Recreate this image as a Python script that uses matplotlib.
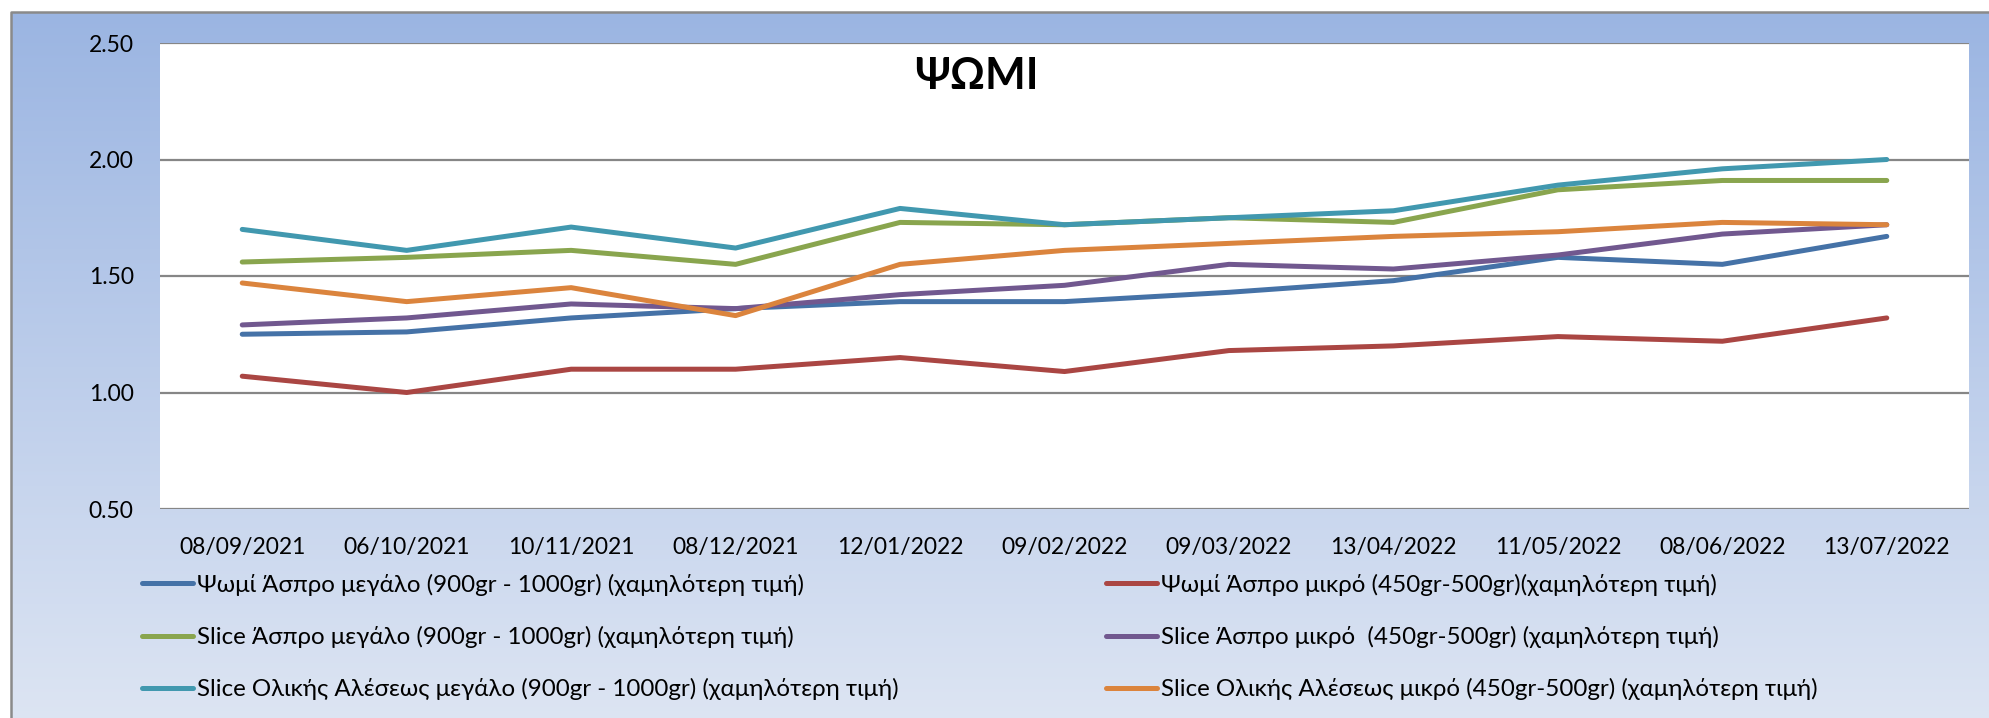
import numpy as np
import matplotlib
matplotlib.use("Agg")
import matplotlib.pyplot as plt

plt.rcParams['font.family'] = ['Lato', 'DejaVu Sans']

dates = ['08/09/2021', '06/10/2021', '10/11/2021', '08/12/2021', '12/01/2022',
         '09/02/2022', '09/03/2022', '13/04/2022', '11/05/2022', '08/06/2022',
         '13/07/2022']

white_big = [1.25, 1.26, 1.32, 1.36, 1.39, 1.39, 1.43, 1.48, 1.58, 1.55, 1.67]
white_small = [1.07, 1.00, 1.10, 1.10, 1.15, 1.09, 1.18, 1.20, 1.24, 1.22, 1.32]
slice_big = [1.56, 1.58, 1.61, 1.55, 1.73, 1.72, 1.75, 1.73, 1.87, 1.91, 1.91]
slice_small = [1.29, 1.32, 1.38, 1.36, 1.42, 1.46, 1.55, 1.53, 1.59, 1.68, 1.72]
whole_big = [1.70, 1.61, 1.71, 1.62, 1.79, 1.72, 1.75, 1.78, 1.89, 1.96, 2.00]
whole_small = [1.47, 1.39, 1.45, 1.33, 1.55, 1.61, 1.64, 1.67, 1.69, 1.73, 1.72]

labels = [
    'Ψωμί Άσπρο μεγάλο (900gr - 1000gr) (χαμηλότερη τιμή)',
    'Ψωμί Άσπρο μικρό (450gr-500gr)(χαμηλότερη τιμή)',
    'Slice Άσπρο μεγάλο (900gr - 1000gr) (χαμηλότερη τιμή)',
    'Slice Άσπρο μικρό  (450gr-500gr) (χαμηλότερη τιμή)',
    'Slice Ολικής Αλέσεως μεγάλο (900gr - 1000gr) (χαμηλότερη τιμή)',
    'Slice Ολικής Αλέσεως μικρό (450gr-500gr) (χαμηλότερη τιμή)',
]
series = [white_big, white_small, slice_big, slice_small, whole_big, whole_small]
colors = ['#4572A7', '#AA4643', '#89A54E', '#71588F', '#4198AF', '#DB843D']

W, H = 1990, 718
fig = plt.figure(figsize=(W / 100, H / 100), dpi=100)

# background: gradient panel with grey frame
bg = fig.add_axes([0, 0, 1, 1], zorder=-5)
bg.set_xlim(0, W)
bg.set_ylim(H, 0)
bg.axis('off')
top_c = np.array([155, 181, 226]) / 255
bot_c = np.array([221, 229, 243]) / 255
t = np.linspace(0, 1, 256)[:, None]
grad = top_c[None, None, :] * (1 - t[..., None]) + bot_c[None, None, :] * t[..., None]
grad = np.repeat(grad, 2, axis=1)
bg.imshow(grad, extent=[11, W + 5, H + 5, 12], aspect='auto', interpolation='bilinear')
bg.plot([11, 11, W + 5], [H + 5, 12, 12], color='#8A8A8A', lw=1.8, solid_capstyle='butt')

ax = fig.add_axes([160 / W, 1 - 509 / H, (1969 - 160) / W, (509 - 43) / H])
ax.set_facecolor('white')
x = np.arange(len(dates))
handles = []
for vals, lab, c in zip(series, labels, colors):
    ln, = ax.plot(x, vals, color=c, lw=3.6, label=lab, solid_capstyle='round', solid_joinstyle='round')
    handles.append(ln)

ax.set_xlim(-0.5, len(dates) - 0.5)
ax.set_ylim(0.5, 2.5)
ax.set_yticks([0.5, 1.0, 1.5, 2.0, 2.5])
ax.set_yticklabels(['%.2f' % v for v in [0.5, 1.0, 1.5, 2.0, 2.5]])
ax.set_xticks(x)
ax.set_xticklabels(dates)
ax.tick_params(axis='both', length=0, labelsize=16.5, colors='black')
ax.tick_params(axis='y', pad=19)
ax.tick_params(axis='x', pad=20)
ax.grid(axis='y', color='#868686', lw=1.6)
ax.set_axisbelow(True)
for s in ax.spines.values():
    s.set_visible(False)

fig.text(976 / W, 1 - 76 / H, 'ΨΩΜΙ', fontsize=31, fontweight='bold',
         ha='center', va='center')

leg_kw = dict(loc='center left', frameon=False, fontsize=17.4, handlelength=2.1,
              handletextpad=0.18, labelspacing=1.25, borderpad=0, borderaxespad=0)
fig.legend(handles[0::2], labels[0::2], bbox_to_anchor=(142 / W, 1 - 637 / H), **leg_kw)
fig.legend(handles[1::2], labels[1::2], bbox_to_anchor=(1106 / W, 1 - 637 / H), **leg_kw)

fig.savefig('out.png', dpi=100)
